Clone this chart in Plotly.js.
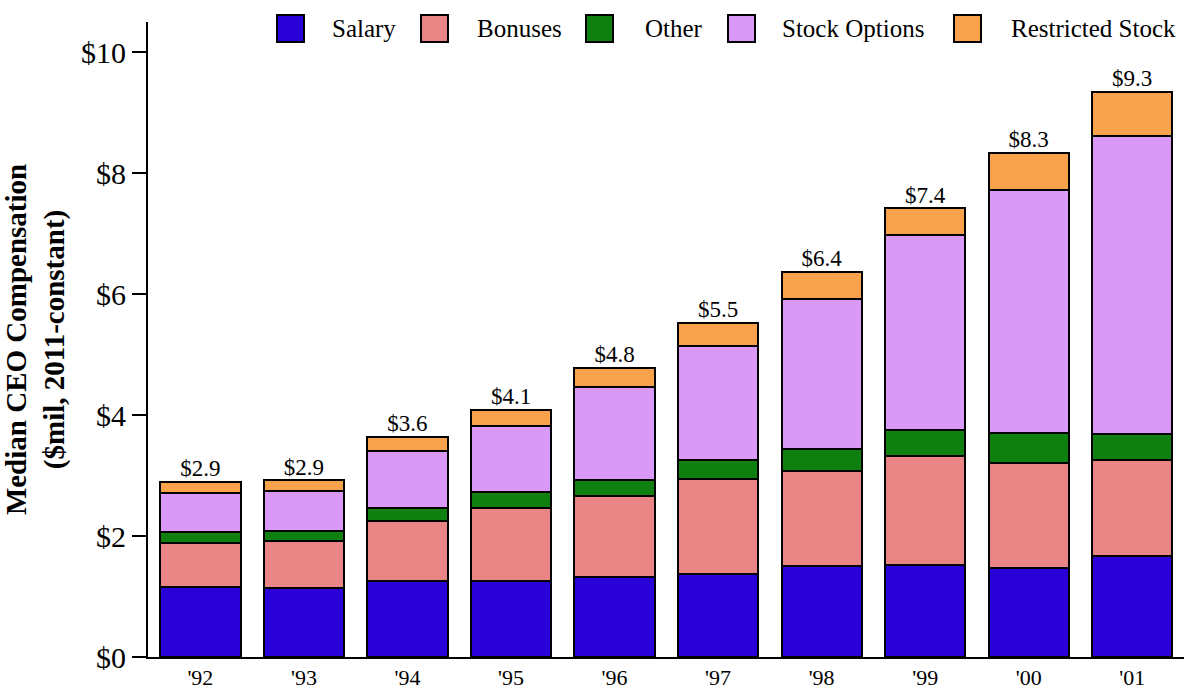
<!DOCTYPE html>
<html>
<head>
<meta charset="utf-8">
<script src="https://cdn.plot.ly/plotly-3.0.1.min.js"></script>
<style>html,body{margin:0;padding:0;background:#fff;}#chart{width:1186px;height:692px;}</style>
</head>
<body>
<div id="chart"></div>
<script>
const years = ["'92","'93","'94","'95","'96","'97","'98","'99","'00","'01"];
const seriesNames = ["Salary", "Bonuses", "Other", "Stock Options", "Restricted Stock"];
const salary = [1.16, 1.14, 1.25, 1.26, 1.33, 1.37, 1.50, 1.52, 1.47, 1.67];
const bonuses = [0.72, 0.77, 1.00, 1.20, 1.34, 1.57, 1.58, 1.81, 1.73, 1.59];
const other = [0.18, 0.18, 0.21, 0.27, 0.25, 0.32, 0.36, 0.43, 0.51, 0.42];
const stockOptions = [0.65, 0.66, 0.95, 1.09, 1.54, 1.89, 2.48, 3.21, 4.01, 4.93];
const restricted = [0.18, 0.17, 0.23, 0.27, 0.32, 0.37, 0.45, 0.45, 0.61, 0.73];
const totalLabels = ["$2.9","$2.9","$3.6","$4.1","$4.8","$5.5","$6.4","$7.4","$8.3","$9.3"];
const yTickVals = [0, 2, 4, 6, 8, 10];
const yTickLabels = ["$0","$2","$4","$6","$8","$10"];

const colors = ['#2a00d8', '#e98585', '#0f7f10', '#d999f7', '#f9a24c'];
const serif = "'Liberation Serif', 'Times New Roman', serif";

// page geometry (pixels)
const W = 1186, H = 692;
const M = {l: 148, r: 2, t: 22, b: 35};
const plotW = W - M.l - M.r, plotH = H - M.t - M.b;
const px2x = p => (p - M.l) / plotW;
const px2y = p => (H - M.b - p) / plotH;

const idx = years.map((_, i) => i);
const series = [salary, bonuses, other, stockOptions, restricted];
const totals = idx.map(i => series.reduce((s, arr) => s + arr[i], 0));

const data = series.map((y, k) => ({
  type: 'bar', name: seriesNames[k], x: idx, y: y,
  marker: {color: colors[k], line: {color: '#000', width: 2}},
  width: 0.775, hoverinfo: 'skip', showlegend: false
}));
data.push({
  type: 'scatter', mode: 'text', x: idx, y: totals, text: totalLabels,
  textposition: 'top center', textfont: {family: serif, size: 23, color: '#000'},
  showlegend: false, hoverinfo: 'skip', cliponaxis: false
});

// custom legend (large square keys like the original)
const legendBoxLeft = [277, 421, 586, 728, 954];
const legendTextLeft = [330, 475, 643, 780, 1009];
const shapes = [], annotations = [];
seriesNames.forEach((n, k) => {
  shapes.push({
    type: 'rect', xref: 'paper', yref: 'paper',
    x0: px2x(legendBoxLeft[k]), x1: px2x(legendBoxLeft[k] + 27),
    y0: px2y(42), y1: px2y(15),
    fillcolor: colors[k], line: {color: '#000', width: 2}
  });
  annotations.push({
    xref: 'paper', yref: 'paper', x: px2x(legendTextLeft[k]), y: px2y(28),
    xanchor: 'left', yanchor: 'middle', text: n, showarrow: false,
    font: {family: serif, size: 25, color: '#000'}
  });
});

const layout = {
  width: W, height: H,
  margin: {l: M.l, r: M.r, t: M.t, b: M.b, autoexpand: false},
  paper_bgcolor: '#fff', plot_bgcolor: '#fff',
  barmode: 'stack',
  showlegend: false,
  shapes: shapes, annotations: annotations,
  xaxis: {
    range: [-0.506, 9.5], tickmode: 'array', tickvals: idx, ticktext: years,
    showline: true, linecolor: '#000', linewidth: 2, ticks: '', showgrid: false,
    zeroline: false, tickfont: {family: serif, size: 22, color: '#000'}, fixedrange: true
  },
  yaxis: {
    range: [0, 10.5], tickmode: 'array', tickvals: yTickVals, ticktext: yTickLabels,
    showline: true, linecolor: '#000', linewidth: 2, ticks: 'outside', ticklen: 14,
    tickwidth: 1.5, tickcolor: '#000', showgrid: false, zeroline: false,
    tickfont: {family: serif, size: 30, color: '#000'},
    title: {text: '<b>Median CEO Compensation<br>($mil, 2011-constant)</b>',
            font: {family: serif, size: 29, color: '#000'}, standoff: 8},
    fixedrange: true
  }
};

Plotly.newPlot('chart', data, layout, {displayModeBar: false, staticPlot: true});
</script>
</body>
</html>
